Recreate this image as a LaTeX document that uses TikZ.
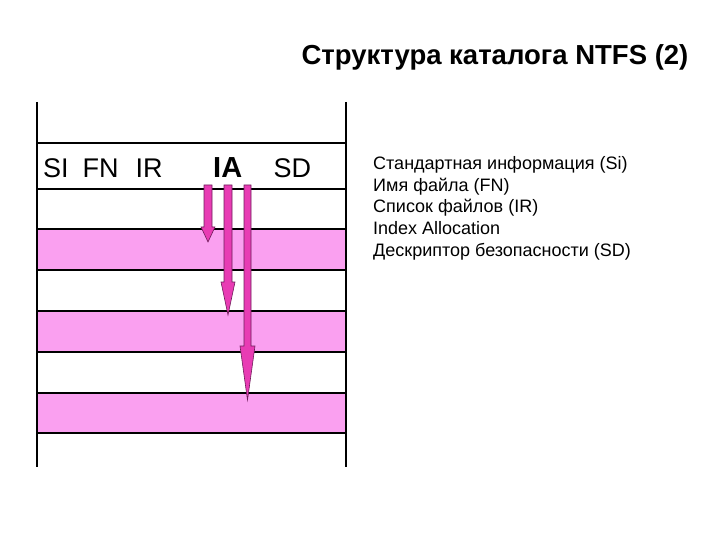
\documentclass[tikz,border=0pt]{standalone}
\usepackage{fontspec}
\setmainfont{Liberation Sans}
\definecolor{bandpink}{RGB}{250,160,240}
\definecolor{arrowpink}{RGB}{232,60,180}
\definecolor{arrowedge}{RGB}{110,30,90}
\begin{document}
\begin{tikzpicture}[x=1pt,y=-1pt,
  rule/.style={line width=1.2pt,black},
  frame/.style={line width=1.6pt,black},
  band/.style={fill=bandpink},
  iarrow/.style={fill=arrowpink,draw=arrowedge,line width=0.6pt,line join=miter},
  lbl/.style={inner sep=0pt,anchor=base west,font=\fontsize{27}{30}\selectfont},
  item/.style={inner sep=0pt,anchor=base west,font=\fontsize{18}{21}\selectfont}]
\useasboundingbox (0,0) rectangle (720,540);
% bands
\fill[band] (37,229) rectangle (346,270);
\fill[band] (37,311) rectangle (346,352);
\fill[band] (37,393) rectangle (346,433);
% rules
\foreach \yy in {143,189,229,270,311,352,393,433}
  \draw[rule] (37,\yy) -- (346,\yy);
\draw[frame] (37,102) -- (37,467);
\draw[frame] (346,102) -- (346,467);
% arrows
\draw[iarrow] (204,185) -- (212,185) -- (212,227) -- (215,227) -- (208,242) -- (201,227) -- (204,227) -- cycle;
\draw[iarrow] (224,185) -- (232,185) -- (232,282) -- (235,282) -- (228,315) -- (221,282) -- (224,282) -- cycle;
\draw[iarrow] (244,185) -- (251,185) -- (251,346) -- (255,346) -- (247.5,400) -- (240,346) -- (244,346) -- cycle;
% labels
\node[lbl] (si) at (43,177.5) {SI};
\node[lbl] (fn) at (82.5,177.5) {FN};
\node[lbl] (ir) at (135.5,177.5) {IR};
\node[lbl,font=\fontsize{29}{32}\selectfont\bfseries] (ia) at (213,177.5) {IA};
\node[lbl] (sd) at (273.5,177.5) {SD};
% title
\node[inner sep=0pt,anchor=base,font=\fontsize{27.5}{32}\selectfont\bfseries] (title) at (495,65) {Структура каталога NTFS (2)};
% list
\node[item] (l1) at (373,170) {Стандартная информация (Si)};
\node[item] (l2) at (373,191.5) {Имя файла (FN)};
\node[item] (l3) at (373,213) {Список файлов (IR)};
\node[item] (l4) at (373,234.5) {Index Allocation};
\node[item] (l5) at (373,256) {Дескриптор безопасности (SD)};
\end{tikzpicture}
\end{document}
